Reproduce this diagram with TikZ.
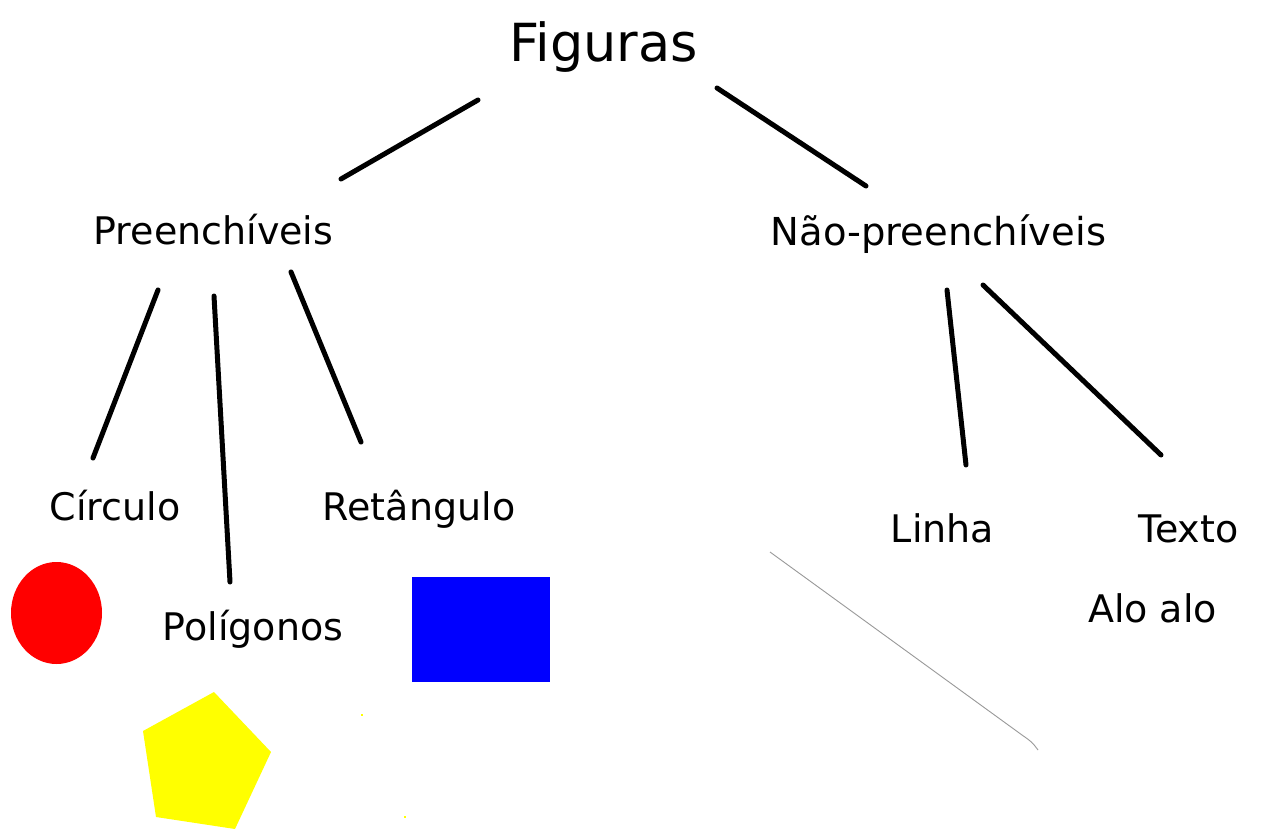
\documentclass[tikz,border=0pt]{standalone}
\usepackage{fontspec}
\setmainfont{DejaVu Sans}
\definecolor{pyellow}{RGB}{255,255,0}
\definecolor{pred}{RGB}{255,0,0}
\definecolor{pblue}{RGB}{0,0,255}
\begin{document}
\begin{tikzpicture}[x=1pt,y=-1pt,
  lbl/.style={inner sep=0pt,anchor=base,font=\fontsize{38}{44}\selectfont},
  edge/.style={line width=5pt,line cap=round,black}]
\useasboundingbox[fill=white] (0,0) rectangle (1288,840);
% labels
\node[lbl,font=\fontsize{52.5}{60}\selectfont] (fig) at (603.5,62) {Figuras};
\node[lbl] (pre) at (213.5,244) {Preenchíveis};
\node[lbl,font=\fontsize{38.5}{44}\selectfont] (nao) at (938.5,245) {Não-preenchíveis};
\node[lbl] (cir) at (115,520) {Círculo};
\node[lbl] (ret) at (419,520) {Retângulo};
\node[lbl] (pol) at (253,640) {Polígonos};
\node[lbl] (lin) at (942.5,542) {Linha};
\node[lbl] (tex) at (1188.5,542) {Texto};
\node[lbl] (alo) at (1152.5,622) {Alo alo};
% connector end points
\coordinate (fig-pre-a) at (478,100);  \coordinate (fig-pre-b) at (341,179);
\coordinate (fig-nao-a) at (717,88);   \coordinate (fig-nao-b) at (866,186);
\coordinate (pre-cir-a) at (158,290);  \coordinate (pre-cir-b) at (93,458);
\coordinate (pre-pol-a) at (214,296);  \coordinate (pre-pol-b) at (230,582);
\coordinate (pre-ret-a) at (291,272);  \coordinate (pre-ret-b) at (361,442);
\coordinate (nao-lin-a) at (947,290);  \coordinate (nao-lin-b) at (966,465);
\coordinate (nao-tex-a) at (983,285);  \coordinate (nao-tex-b) at (1161,455);
\draw[edge] (fig-pre-a) -- (fig-pre-b);
\draw[edge] (fig-nao-a) -- (fig-nao-b);
\draw[edge] (pre-cir-a) -- (pre-cir-b);
\draw[edge] (pre-pol-a) -- (pre-pol-b);
\draw[edge] (pre-ret-a) -- (pre-ret-b);
\draw[edge] (nao-lin-a) -- (nao-lin-b);
\draw[edge] (nao-tex-a) -- (nao-tex-b);
% shapes
\fill[pred] (56.5,613) ellipse [x radius=45.5, y radius=51];
\fill[pblue] (412,577) rectangle (550,682);
\fill[pyellow] (214,692) -- (271,752) -- (235,829) -- (156,817) -- (143,731) -- cycle;
\fill[pyellow] (361,714) rectangle (363,716);
\fill[pyellow] (404,816) rectangle (406,818);
\draw[gray!80,line width=0.9pt] (770,552) -- (1022,735) .. controls (1032,742) .. (1038,750);
\end{tikzpicture}
\end{document}
